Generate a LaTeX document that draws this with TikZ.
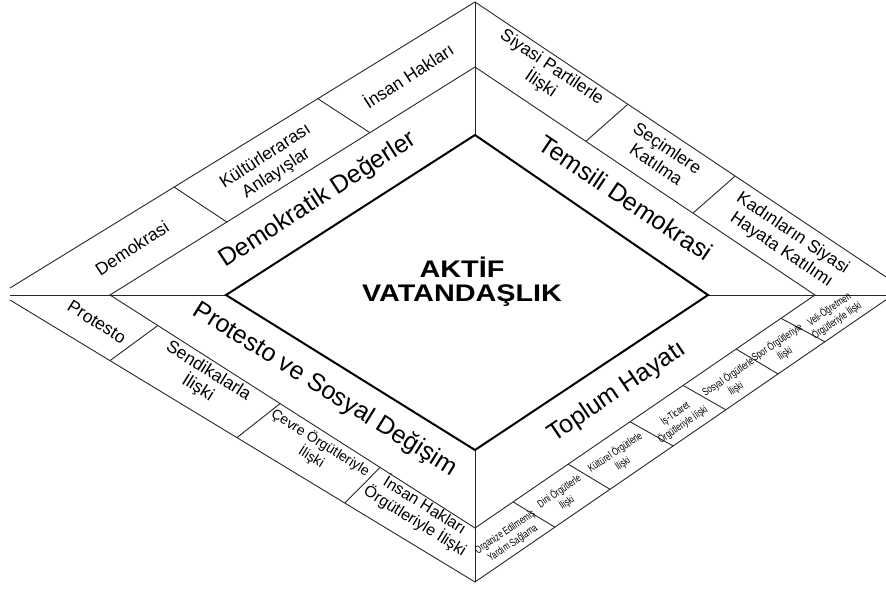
\documentclass[tikz,border=0pt]{standalone}
\usepackage{fontspec}
\setmainfont{Liberation Sans}
\newfontfamily\narrowsans[FakeStretch=0.72]{Liberation Sans}
\newfontfamily\widesans[FakeStretch=1.2]{Liberation Sans}
\usetikzlibrary{calc}

\begin{document}
\begin{tikzpicture}[
    x=1pt, y=-1pt,
    thin line/.style={draw=black!85, line width=0.9pt},
    core line/.style={draw=black, line width=2pt},
    core/.style={font=\widesans\bfseries\fontsize{24}{24}\selectfont, align=center, inner sep=0pt},
    cat/.style={font=\fontsize{25}{28}\selectfont, inner sep=0pt},
    item/.style={font=\fontsize{17.5}{20}\selectfont, align=center, inner sep=0pt},
    small item/.style={font=\narrowsans\fontsize{10.8}{13.5}\selectfont, align=center, inner sep=0pt},
]
\useasboundingbox (0,0) rectangle (886,589);
\clip (0,0) rectangle (886,589);

% corners of the three diamonds
\coordinate (iL) at (226,295);
\coordinate (iT) at (475,135);
\coordinate (iR) at (708,295);
\coordinate (iB) at (475,450);
\coordinate (mL) at (110,295);
\coordinate (mT) at (475,67);
\coordinate (mR) at (815,295);
\coordinate (mB) at (475,528);
\coordinate (oL) at (10,295);
\coordinate (oLu) at (10,288);
\coordinate (oLd) at (10,300);
\coordinate (oT) at (475,2);
\coordinate (oB) at (475,582);
\coordinate (oR) at (900,295);
\coordinate (oRu) at (913,295);
\coordinate (oRd) at (893,295);

% outer rings
\draw[thin line] (mL) -- (mT) -- (mR) -- (mB) -- cycle;
\draw[thin line] (oLu) -- (oT) -- (oRu);
\draw[thin line] (oLd) -- (oB) -- (oRd);
\draw[thin line] (oL) -- (iL);
\draw[thin line] (iR) -- (oR);
\draw[thin line] (oT) -- (iT);
\draw[thin line] (iB) -- (oB);

% dividers between the items
\foreach \m/\o in {.32/.353, .712/.662}
    \draw[thin line] ($(mL)!\m!(mT)$) -- ($(oLu)!\o!(oT)$);
\foreach \m/\o in {.326/.349, .641/.594}
    \draw[thin line] ($(mT)!\m!(mR)$) -- ($(oT)!\o!(oRu)$);
\foreach \m/\o in {.131/.215, .466/.488, .74/.72}
    \draw[thin line] ($(mL)!\m!(mB)$) -- ($(oLd)!\o!(oB)$);
\foreach \m/\o in {.112/.191, .274/.323, .456/.474, .612/.6, .768/.725, .9/.837}
    \draw[thin line] ($(mB)!\m!(mR)$) -- ($(oB)!\o!(oRd)$);

\draw[core line] (iL) -- (iT) -- (iR) -- (iB) -- cycle;

\node[core] (active) at (462,282) {AKTİF\\VATANDAŞLIK};

\node[cat, rotate=33] (values) at (318,200) {Demokratik Değerler};
\node[cat, rotate=-34] (represent) at (626,198) {Temsili Demokrasi};
\node[cat, rotate=-32] (protest) at (325,390) {Protesto ve Sosyal Değişim};
\node[cat, rotate=34] (community) at (617,392) {Toplum Hayatı};

\node[item, rotate=33] (democracy) at (132,248) {Demokrasi};
\node[item, rotate=33] (intercult) at (271,165) {Kültürlerarası\\Anlayışlar};
\node[item, rotate=33] (rights) at (408,75) {İnsan Hakları};

\node[item, rotate=-34] (parties) at (546,76) {Siyasi Partilerle\\İlişki};
\node[item, rotate=-34] (elections) at (662,156) {Seçimlere\\Katılma};
\node[item, rotate=-34] (women) at (787,242) {Kadınların Siyasi\\Hayata Katılımı};

\node[item, rotate=-32] (protesting) at (97,322) {Protesto};
\node[item, rotate=-32] (unions) at (203,380) {Sendikalarla\\İlişki};
\node[item, rotate=-32, font=\fontsize{14}{17}\selectfont] (environ) at (316,450) {Çevre Örgütleriyle\\İlişki};
\node[item, rotate=-32, font=\fontsize{16}{18}\selectfont] (rightsorg) at (420,513) {İnsan Hakları\\Örgütleriyle İlişki};

\node[small item, rotate=34] (unorg) at (509,538) {Organize Edilmemiş\\Yardım Sağlama};
\node[small item, rotate=34] (relig) at (563,497) {Dini Örgütlerle\\İlişki};
\node[small item, rotate=34] (cultural) at (619,458) {Kültürel Örgütlerle\\İlişki};
\node[small item, rotate=34] (business) at (679,419) {İş-Ticaret\\Örgütleriyle İlişki};
\node[small item, rotate=34] (social) at (732,383) {Sosyal Örgütlerle\\İlişki};
\node[small item, rotate=34] (sports) at (781,348) {Spor Örgütleriyle\\İlişki};
\node[small item, rotate=34] (parents) at (833,315) {Veli-Öğretmen\\Örgütleriyle İlişki};

\end{tikzpicture}
\end{document}
